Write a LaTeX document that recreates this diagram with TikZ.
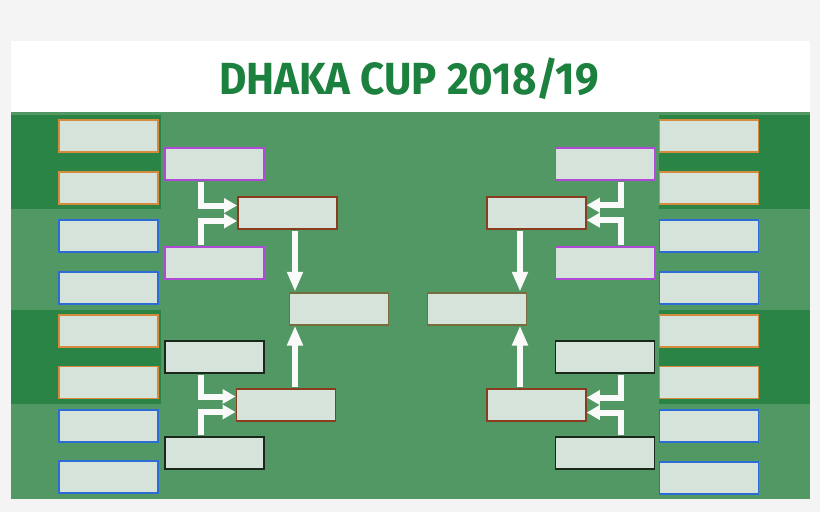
\documentclass[tikz,border=0pt]{standalone}
\usepackage{fontspec}
\usetikzlibrary{arrows.meta}
\newfontfamily\titlefont{Fira Sans}
\definecolor{pagebg}{RGB}{244,244,244}
\definecolor{fieldgreen}{RGB}{81,152,101}
\definecolor{bandgreen}{RGB}{42,132,70}
\definecolor{titlegreen}{RGB}{28,128,62}
\definecolor{boxfill}{RGB}{214,227,218}
\definecolor{borange}{RGB}{214,138,62}
\definecolor{bblue}{RGB}{44,108,212}
\definecolor{bpurple}{RGB}{176,74,214}
\definecolor{bblack}{RGB}{26,40,28}
\definecolor{bbrown}{RGB}{138,60,30}
\definecolor{bfinal}{RGB}{118,108,62}
\definecolor{arrowwhite}{RGB}{250,250,250}
\tikzset{
  box/.style={draw, fill=boxfill, line width=1.9pt, minimum width=99pt, minimum height=32pt, inner sep=0pt},
  ob/.style={box, draw=borange},
  bb/.style={box, draw=bblue},
  pb/.style={box, draw=bpurple},
  kb/.style={box, draw=bblack},
  rb/.style={box, draw=bbrown},
  fb/.style={box, draw=bfinal},
  harr/.style={draw=arrowwhite, line width=6pt, shorten <=1pt, -{Triangle[length=13pt,width=14pt]}},
  varr/.style={draw=arrowwhite, line width=6pt, shorten <=1pt, -{Triangle[length=20pt,width=15pt]}}
}
\begin{document}
\begin{tikzpicture}[x=1pt,y=-1pt]
\useasboundingbox (0,0) rectangle (820,512);
\fill[pagebg] (0,0) rectangle (820,512);
\fill[white] (10.5,40.5) rectangle (809.5,112);
\fill[fieldgreen] (10.5,112) rectangle (809.5,499.3);
% darker bands
\fill[bandgreen] (10.5,115) rectangle (161,209.3);
\fill[bandgreen] (10.5,310) rectangle (161,404);
\fill[bandgreen] (659,115) rectangle (809.5,209.3);
\fill[bandgreen] (659,310) rectangle (809.5,403.5);
% title
\node[anchor=base, inner sep=0pt, text=titlegreen] (title) at (409,94.3)
  {\scalebox{0.935}[1]{\titlefont\bfseries\fontsize{45}{45}\selectfont DHAKA CUP 2018/19}};
% round 1 left
\node[ob] (L1) at (108.5,136.3) {};
\node[ob] (L2) at (108.5,188) {};
\node[bb] (L3) at (108.5,236) {};
\node[bb] (L4) at (108.5,288) {};
\node[ob] (L5) at (108.5,330.7) {};
\node[ob] (L6) at (108.5,382.5) {};
\node[bb] (L7) at (108.5,426) {};
\node[bb] (L8) at (108.5,477.3) {};
% round 1 right
\node[ob] (R1) at (709,136.3) {};
\node[ob] (R2) at (709,188.3) {};
\node[bb] (R3) at (709,236.3) {};
\node[bb] (R4) at (709,288.3) {};
\node[ob] (R5) at (709,331) {};
\node[ob] (R6) at (709,382.5) {};
\node[bb] (R7) at (709,425.7) {};
\node[bb] (R8) at (709,477.7) {};
% round 2
\node[pb] (QL1) at (214.2,164.2) {};
\node[pb] (QL2) at (214.2,263) {};
\node[kb] (QL3) at (214.2,357) {};
\node[kb] (QL4) at (214.2,453) {};
\node[pb] (QR1) at (605,164.2) {};
\node[pb] (QR2) at (605,263) {};
\node[kb] (QR3) at (605,357) {};
\node[kb] (QR4) at (605,453.3) {};
% round 3
\node[rb] (SL1) at (287.5,213.2) {};
\node[rb] (SL2) at (286,405) {};
\node[rb] (SR1) at (536.3,213.2) {};
\node[rb] (SR2) at (536.3,405) {};
% finals
\node[fb] (FL) at (339,308.7) {};
\node[fb] (FR) at (477,308.7) {};
% arrows left
\draw[harr] ([xshift=-13pt]QL1.south) |- ([yshift=7.7pt]SL1.west);
\draw[harr] ([xshift=-13pt]QL2.north) |- ([yshift=-7.8pt]SL1.west);
\draw[harr] ([xshift=-13pt]QL3.south) |- ([yshift=8.5pt]SL2.west);
\draw[harr] ([xshift=-13pt]QL4.north) |- ([yshift=-7pt]SL2.west);
% arrows right
\draw[harr] ([xshift=16pt]QR1.south) |- ([yshift=8pt]SR1.east);
\draw[harr] ([xshift=16pt]QR2.north) |- ([yshift=-7pt]SR1.east);
\draw[harr] ([xshift=16pt]QR3.south) |- ([yshift=7.5pt]SR2.east);
\draw[harr] ([xshift=16pt]QR4.north) |- ([yshift=-7.5pt]SR2.east);
% vertical arrows
\draw[varr] ([xshift=7.5pt]SL1.south) -- ([xshift=7.5pt]SL1.south |- FL.north);
\draw[varr] ([xshift=9pt]SL2.north) -- ([xshift=9pt]SL2.north |- FL.south);
\draw[varr] ([xshift=-16.3pt]SR1.south) -- ([xshift=-16.3pt]SR1.south |- FR.north);
\draw[varr] ([xshift=-16.3pt]SR2.north) -- ([xshift=-16.3pt]SR2.north |- FR.south);
\end{tikzpicture}
\end{document}
